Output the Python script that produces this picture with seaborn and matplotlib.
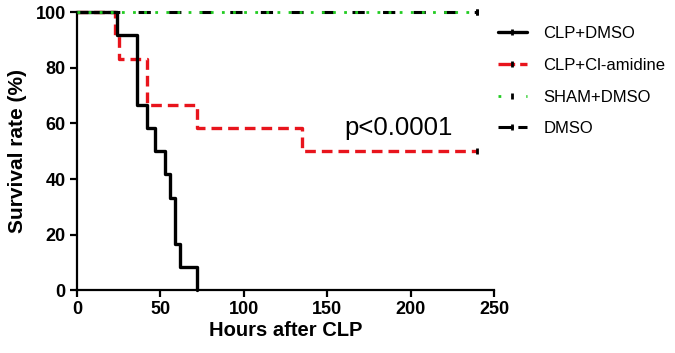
import matplotlib
matplotlib.use('Agg')
from matplotlib import pyplot as plt
from matplotlib.lines import Line2D
import seaborn as sns
import pandas as pd

# survival data (hours after CLP, survival %)
clp_dmso_hours = [0, 24, 36, 42, 47, 53, 56, 59, 62, 72]
clp_dmso_surv = [100, 91.67, 66.67, 58.33, 50, 41.67, 33.33, 16.67, 8.33, 0]

clp_cla_hours = [0, 23, 25, 42, 72, 135, 240]
clp_cla_surv = [100, 91.67, 83.33, 66.67, 58.33, 50, 50]

sham_hours = [0, 240]
sham_surv = [100, 100]

dmso_hours = [0, 240]
dmso_surv = [100, 100]

x_ticks = [0, 50, 100, 150, 200, 250]
y_ticks = [0, 20, 40, 60, 80, 100]

sns.set_style('ticks')
plt.rcParams['font.family'] = ['Liberation Sans', 'DejaVu Sans']
plt.rcParams['text.color'] = 'black'
plt.rcParams['axes.labelcolor'] = 'black'
plt.rcParams['xtick.color'] = 'black'
plt.rcParams['ytick.color'] = 'black'

fig = plt.figure(figsize=(6.75, 3.53), dpi=100)
ax = fig.add_axes([0.114, 0.178, 0.618, 0.787])

# name, x, y, line style, censored point indices, legend dash pattern
series = [
    ('CLP+DMSO', clp_dmso_hours, clp_dmso_surv,
     dict(color='black', lw=2.4, zorder=4), [], None),
    ('CLP+Cl-amidine', clp_cla_hours, clp_cla_surv,
     dict(color='#e8141c', lw=2.4, zorder=3), [-1], (5, 1.5)),
    ('SHAM+DMSO', sham_hours, sham_surv,
     dict(color='#22cc22', lw=2.0, zorder=5), [-1], (1, 9)),
    ('DMSO', dmso_hours, dmso_surv,
     dict(color='black', lw=2.2, zorder=2), [-1], (5, 1.5)),
]
plot_dashes = [None, (3.2, 1.8), (1, 3), (4, 6)]

handles = []
for (name, hrs, surv, style, cens, leg_dash), dash in zip(series, plot_dashes):
    df = pd.DataFrame({'hours': hrs, 'survival': surv})
    extra = {} if dash is None else {'dashes': dash}
    sns.lineplot(data=df, x='hours', y='survival', ax=ax,
                 drawstyle='steps-post', marker='|', markevery=cens,
                 markersize=5, markeredgewidth=2, markeredgecolor='black',
                 **style, **extra)
    # legend proxy with the censor tick in the middle
    leg_extra = {} if leg_dash is None else {'dashes': leg_dash}
    handles.append(Line2D([], [], marker='|', markersize=5,
                          markeredgewidth=2, markeredgecolor='black',
                          label=name, **style, **leg_extra))

ax.set_xlim(0, 250)
ax.set_ylim(0, 100)
ax.set_xticks(x_ticks)
ax.set_yticks(y_ticks)
for lbl in ax.get_xticklabels() + ax.get_yticklabels():
    lbl.set_fontweight('bold')
    lbl.set_fontsize(13)
ax.tick_params(width=1.6, length=5, color='black', pad=3)
for side in ['left', 'bottom']:
    ax.spines[side].set_linewidth(1.6)
    ax.spines[side].set_color('black')
sns.despine(ax=ax)
for line in ax.lines:
    line.set_clip_on(False)

ax.set_xlabel('Hours after CLP', fontsize=14.5, fontweight='bold', labelpad=2)
ax.set_ylabel('Survival rate (%)', fontsize=15, fontweight='bold', labelpad=6)

ax.text(160.5, 56, 'p<0.0001', fontsize=18.5, ha='left', va='baseline')

ax.legend(handles=handles, loc='upper left', bbox_to_anchor=(0.716, 0.968),
          bbox_transform=fig.transFigure, frameon=False, fontsize=12,
          handlelength=1.7, handletextpad=1.0, labelspacing=1.0,
          numpoints=1)

plt.savefig('out.png', dpi=100)
